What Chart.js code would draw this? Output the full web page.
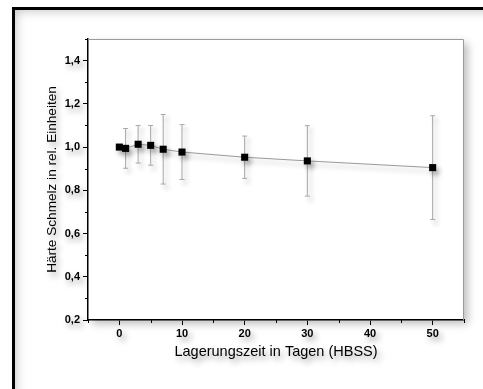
<!DOCTYPE html>
<html>
<head>
<meta charset="utf-8">
<script src="https://cdn.jsdelivr.net/npm/chart.js@4"></script>
<style>
  html, body { margin: 0; padding: 0; background: #fff; overflow: hidden; }
  #wrap { position: relative; width: 483px; height: 389px; }
  #frame {
    position: absolute; left: 12px; top: 7px; width: 490px; height: 400px;
    border-left: 3px solid #000; border-top: 3px solid #000;
    box-shadow: inset 0 0 12px rgba(0, 0, 0, 0.28);
  }
  #chart { position: absolute; left: 0; top: 0; }
</style>
</head>
<body>
<div id="wrap">
  <div id="frame"></div>
  <canvas id="chart" width="483" height="389"></canvas>
</div>
<script>
// Storage time (days) vs. relative enamel hardness, with error bars
const days = [0, 1, 3, 5, 7, 10, 20, 30, 50];
const hardness = [1.000, 0.994, 1.013, 1.008, 0.990, 0.977, 0.953, 0.936, 0.905];
const errors = [0, 0.092, 0.087, 0.092, 0.161, 0.127, 0.098, 0.163, 0.240];

const xTicks = [0, 10, 20, 30, 40, 50];
const yTicks = [0.2, 0.4, 0.6, 0.8, 1.0, 1.2, 1.4];

const xTitle = 'Lagerungszeit in Tagen (HBSS)';
const yTitle = 'Härte Schmelz in rel. Einheiten';

const fontFamily = '"Liberation Sans", Arial, sans-serif';
const shadowGray = 'rgba(0, 0, 0, 0.4)';

// build the two datasets from the arrays above
const points = days.map((d, i) => ({ x: d, y: hardness[i] }));
const errorSegments = [];
days.forEach((d, i) => {
    errorSegments.push({ x: d, y: hardness[i] - errors[i] });
    errorSegments.push({ x: d, y: hardness[i] + errors[i] });
    errorSegments.push({ x: d, y: null });
});

function withShadow(ctx, fn) {
    ctx.save();
    ctx.shadowColor = shadowGray;
    ctx.shadowBlur = 6;
    ctx.shadowOffsetX = 3;
    ctx.shadowOffsetY = 4;
    fn();
    ctx.restore();
}

// white plot box with a soft drop shadow, grey top/right border, minor ticks
const plotBox = {
    id: 'plotBox',
    beforeDraw(chart) {
        const { ctx, chartArea: a } = chart;
        ctx.save();
        ctx.shadowColor = 'rgba(0, 0, 0, 0.25)';
        ctx.shadowBlur = 8;
        ctx.shadowOffsetX = 4;
        ctx.shadowOffsetY = 4;
        ctx.fillStyle = '#fff';
        ctx.fillRect(a.left, a.top, a.right - a.left, a.bottom - a.top);
        ctx.restore();

        // patch the scales once so their labels get the soft text shadow
        Object.values(chart.scales).forEach(scale => {
            if (scale._shadowed) return;
            scale._shadowed = true;
            const labels = scale.drawLabels.bind(scale);
            const title = scale.drawTitle.bind(scale);
            scale.drawLabels = (area) => withShadow(chart.ctx, () => labels(area));
            scale.drawTitle = (area) => withShadow(chart.ctx, () => title(area));
        });
    },
    beforeDatasetsDraw(chart) {
        const { ctx, chartArea: a, scales } = chart;
        ctx.save();
        ctx.strokeStyle = '#9a9a9a';
        ctx.lineWidth = 1;
        ctx.beginPath();
        ctx.moveTo(a.left, a.top + 0.5);
        ctx.lineTo(a.right - 0.5, a.top + 0.5);
        ctx.lineTo(a.right - 0.5, a.bottom);
        ctx.stroke();

        // minor ticks halfway between the majors
        ctx.strokeStyle = '#000';
        ctx.beginPath();
        for (let v = scales.x.min; v <= scales.x.max + 1e-9; v += 10) {
            const px = Math.round(scales.x.getPixelForValue(v)) + 0.5;
            ctx.moveTo(px, a.bottom);
            ctx.lineTo(px, a.bottom + 3);
        }
        for (let v = 0.3; v <= scales.y.max + 1e-9; v += 0.2) {
            const py = Math.round(scales.y.getPixelForValue(v)) + 0.5;
            ctx.moveTo(a.left, py);
            ctx.lineTo(a.left - 3, py);
        }
        ctx.stroke();
        ctx.restore();

        ctx.save();
        ctx.shadowColor = 'rgba(0, 0, 0, 0.3)';
        ctx.shadowBlur = 5;
        ctx.shadowOffsetX = 3;
        ctx.shadowOffsetY = 4;
    },
    afterDatasetsDraw(chart) {
        chart.ctx.restore();
    }
};

new Chart(document.getElementById('chart'), {
    type: 'scatter',
    data: {
        datasets: [
            {
                label: 'Härte',
                data: points,
                showLine: true,
                borderColor: '#9a9a9a',
                borderWidth: 1,
                backgroundColor: '#000',
                pointBorderColor: '#000',
                pointBorderWidth: 0,
                pointStyle: 'rect',
                pointRadius: 5,
                pointHoverRadius: 5
            },
            {
                label: 'Fehler',
                data: errorSegments,
                showLine: true,
                spanGaps: false,
                borderColor: '#a8a8a8',
                borderWidth: 1,
                pointStyle: 'line',
                pointRadius: 2.5,
                pointHoverRadius: 2.5,
                pointBorderColor: '#a8a8a8',
                pointBorderWidth: 1
            }
        ]
    },
    options: {
        responsive: false,
        animation: false,
        events: [],
        layout: { padding: { left: 40, top: 39, right: 19, bottom: 28 } },
        plugins: {
            legend: { display: false },
            tooltip: { enabled: false }
        },
        scales: {
            x: {
                type: 'linear',
                min: -5,
                max: 55,
                afterFit(scale) { scale.height = 41; },
                afterBuildTicks(scale) { scale.ticks = xTicks.map(v => ({ value: v })); },
                border: { display: true, color: '#000', width: 1.5 },
                grid: {
                    drawOnChartArea: false,
                    drawTicks: true,
                    tickLength: 5,
                    tickColor: '#000',
                    tickWidth: 1
                },
                ticks: {
                    color: '#000',
                    padding: 2,
                    maxRotation: 0,
                    autoSkip: false,
                    font: { family: fontFamily, size: 11, weight: 'bold' }
                },
                title: {
                    display: true,
                    text: xTitle,
                    color: '#000',
                    padding: { top: 3, bottom: 0 },
                    font: { family: fontFamily, size: 14.5 }
                }
            },
            y: {
                type: 'linear',
                min: 0.2,
                max: 1.5,
                afterFit(scale) { scale.width = 48; },
                afterBuildTicks(scale) { scale.ticks = yTicks.map(v => ({ value: v })); },
                border: { display: true, color: '#000', width: 1.5 },
                grid: {
                    drawOnChartArea: false,
                    drawTicks: true,
                    tickLength: 5,
                    tickColor: '#000',
                    tickWidth: 1
                },
                ticks: {
                    color: '#000',
                    padding: 3,
                    autoSkip: false,
                    font: { family: fontFamily, size: 11, weight: 'bold' },
                    callback: v => v.toFixed(1).replace('.', ',')
                },
                title: {
                    display: true,
                    text: yTitle,
                    color: '#000',
                    padding: { top: 4, bottom: 0 },
                    font: { family: fontFamily, size: 13.6 }
                }
            }
        }
    },
    plugins: [plotBox]
});
</script>
</body>
</html>
